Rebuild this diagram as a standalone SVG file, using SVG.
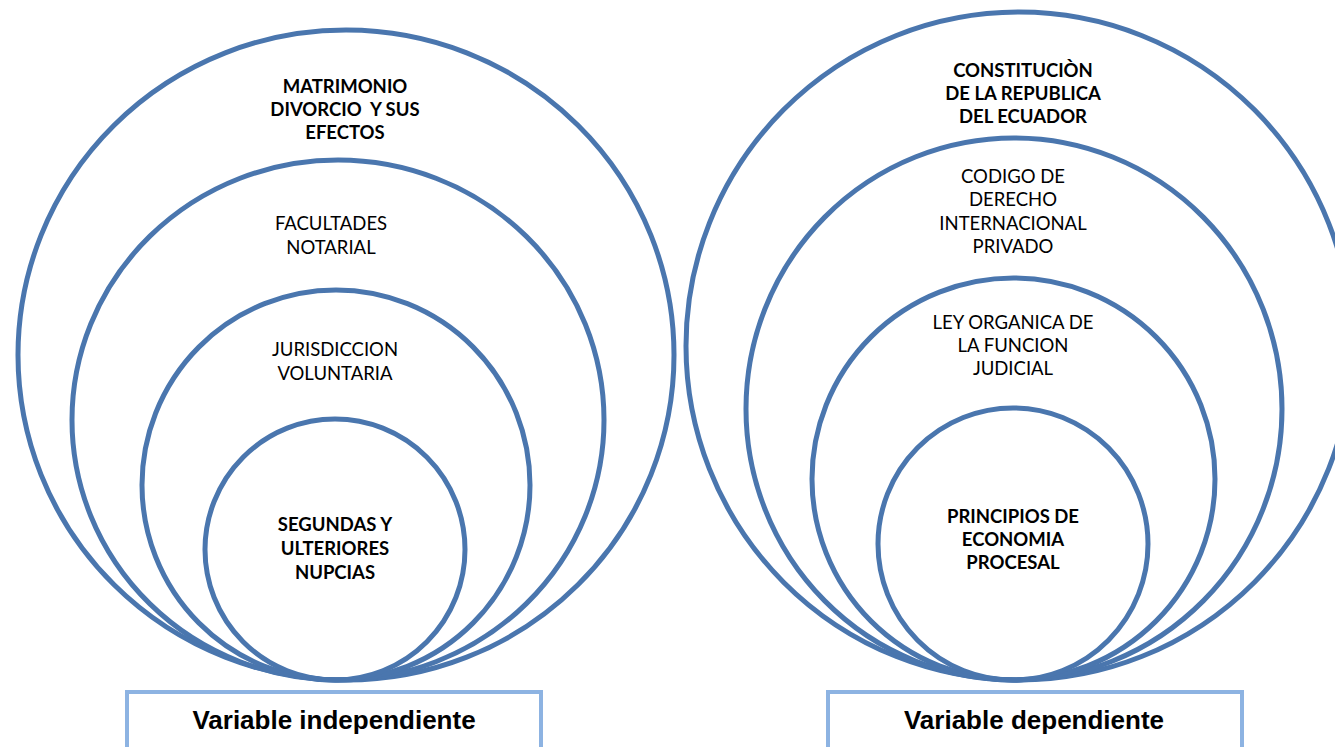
<svg xmlns="http://www.w3.org/2000/svg" width="1335" height="747" viewBox="0 0 1335 747">
<style>
.c{fill:none;stroke:#4a76ae;stroke-width:5}
.t{font-family:Lato,"Open Sans",sans-serif;font-size:18.5px;fill:#000;text-anchor:middle;white-space:pre}
.b{font-weight:bold}
.box{fill:#fff;stroke:#8db3e2;stroke-width:4}
.bl{font-family:"Liberation Sans",Arial,sans-serif;font-size:26px;font-weight:bold;fill:#000;text-anchor:middle}
</style>
<rect width="1335" height="747" fill="#fff"/>
<g id="left">
<g id="n-matrimonio"><ellipse class="c" cx="346" cy="355" rx="328" ry="325"/>
<text class="t b" x="345" y="93">MATRIMONIO</text><text class="t b" x="345" y="116" xml:space="preserve">DIVORCIO  Y SUS</text><text class="t b" x="345" y="139">EFECTOS</text></g>
<g id="n-facultades"><ellipse class="c" cx="338" cy="420" rx="266" ry="260"/>
<text class="t" x="331" y="230">FACULTADES</text><text class="t" x="331" y="254">NOTARIAL</text></g>
<g id="n-jurisdiccion"><ellipse class="c" cx="336" cy="485" rx="194" ry="195"/>
<text class="t" x="335" y="356">JURISDICCION</text><text class="t" x="335" y="380">VOLUNTARIA</text></g>
<g id="n-segundas"><ellipse class="c" cx="335" cy="549.5" rx="130" ry="130.5"/>
<text class="t b" x="335" y="531">SEGUNDAS Y</text><text class="t b" x="335" y="555">ULTERIORES</text><text class="t b" x="335" y="579">NUPCIAS</text></g>
</g>
<g id="right">
<g id="n-constitucion"><ellipse class="c" cx="1019" cy="346" rx="333" ry="334"/>
<text class="t b" x="1023" y="77">CONSTITUCIÒN</text><text class="t b" x="1023" y="100">DE LA REPUBLICA</text><text class="t b" x="1023" y="123">DEL ECUADOR</text></g>
<g id="n-codigo"><ellipse class="c" cx="1014" cy="409" rx="268" ry="271"/>
<text class="t" x="1013" y="183">CODIGO DE</text><text class="t" x="1013" y="206">DERECHO</text><text class="t" x="1013" y="230">INTERNACIONAL</text><text class="t" x="1013" y="253">PRIVADO</text></g>
<g id="n-ley"><ellipse class="c" cx="1013.5" cy="479" rx="201.5" ry="201"/>
<text class="t" x="1013" y="329">LEY ORGANICA DE</text><text class="t" x="1013" y="352">LA FUNCION</text><text class="t" x="1013" y="375">JUDICIAL</text></g>
<g id="n-principios"><ellipse class="c" cx="1013" cy="544" rx="135" ry="136"/>
<text class="t b" x="1013" y="523">PRINCIPIOS DE</text><text class="t b" x="1013" y="546">ECONOMIA</text><text class="t b" x="1013" y="569">PROCESAL</text></g>
</g>
<g id="connectors"></g>
<g id="n-var-indep"><rect class="box" x="127" y="692" width="414" height="70"/>
<text class="bl" x="334" y="729">Variable independiente</text></g>
<g id="n-var-dep"><rect class="box" x="828" y="692" width="414" height="70"/>
<text class="bl" x="1034" y="729">Variable dependiente</text></g>
</svg>
